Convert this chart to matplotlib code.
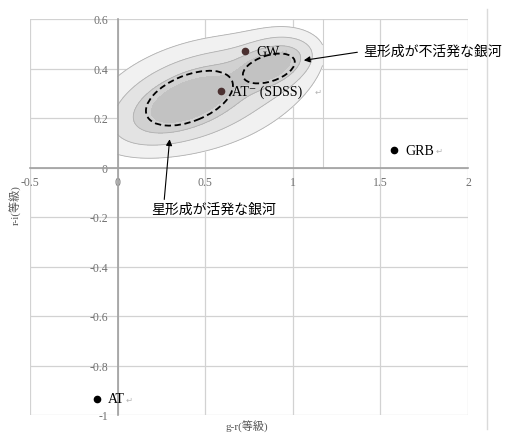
import numpy as np
import matplotlib
matplotlib.use('Agg')
import matplotlib.pyplot as plt
from matplotlib.patches import Ellipse
from matplotlib.transforms import ScaledTranslation
from matplotlib.lines import Line2D

# axis ticks
x_ticks = [-0.5, 0, 0.5, 1, 1.5, 2]
x_tick_labels = ['-0.5', '0', '0.5', '1', '1.5', '2']
y_ticks = [-1, -0.8, -0.6, -0.4, -0.2, 0, 0.2, 0.4, 0.6]
y_tick_labels = ['-1', '-0.8', '-0.6', '-0.4', '-0.2', '0', '0.2', '0.4', '0.6']

# marked objects (g-r, r-i)
obj_names = ['GW', 'AT\u207b (SDSS)', 'GRB', 'AT']
obj_gr = [0.73, 0.59, 1.58, -0.12]
obj_ri = [0.47, 0.31, 0.07, -0.935]
obj_colors = ['#4a3030', '#4a3030', 'black', 'black']
mark_gap = [1, 12, 1, 1]   # gap before the return mark, px

# galaxy density cloud (SDSS background), gaussian components
cloud_gr = [0.40, 0.86, 0.47, 0.88]
cloud_ri = [0.27, 0.41, 0.29, 0.42]
cloud_sgr = [0.19, 0.11, 0.35, 0.14]
cloud_sri = [0.08, 0.045, 0.14, 0.075]
cloud_rho = [0.55, 0.45, 0.35, 0.3]
cloud_w = [1.0, 0.9, 0.35, 0.3]
cloud_extent = [0.0, 1.17, 0.0, 0.6]

# dashed ellipses: centre (data), size in pixels, angle
ell_gr = [0.41, 0.863]
ell_ri = [0.28, 0.40]
ell_w = [92, 54]
ell_h = [46, 26]
ell_ang = [22, 18]

fig = plt.figure(figsize=(5.11, 4.35), dpi=100)
ax = fig.add_axes([30 / 511, 1 - 416 / 435, 438 / 511, 396 / 435])

jp = ['Liberation Serif', 'Noto Sans CJK JP', 'DejaVu Sans']

# density background
gx = np.linspace(cloud_extent[0], cloud_extent[1], 300)
gy = np.linspace(cloud_extent[2], cloud_extent[3], 200)
X, Y = np.meshgrid(gx, gy)
Z = np.zeros_like(X)
for cx, cy, sx, sy, r, w in zip(cloud_gr, cloud_ri, cloud_sgr, cloud_sri, cloud_rho, cloud_w):
    dx = (X - cx) / sx
    dy = (Y - cy) / sy
    q = (dx ** 2 - 2 * r * dx * dy + dy ** 2) / (1 - r ** 2)
    Z += w * np.exp(-q / 2)

levels = [0.08, 0.2, 0.45, 0.8, 5]
ax.contourf(X, Y, Z, levels=levels,
            colors=['#f1f1f1', '#e3e3e3', '#d1d1d1', '#c2c2c2'], zorder=1)
ax.contour(X, Y, Z, levels=levels[:3], colors='#b0b0b0', linewidths=0.6, zorder=1)
ax.plot([cloud_extent[1], cloud_extent[1]], [cloud_extent[2], cloud_extent[3]],
        color='#cfcfcf', lw=0.8, zorder=1)

# axes styling
ax.set_xlim(-0.5, 2)
ax.set_ylim(-1, 0.6)
ax.set_xticks(x_ticks)
ax.set_xticklabels(x_tick_labels)
ax.set_yticks(y_ticks)
ax.set_yticklabels(y_tick_labels)
ax.grid(True, color='#d2d2d2', lw=0.9, zorder=0)
ax.set_axisbelow(True)
for s in ['top', 'right']:
    ax.spines[s].set_visible(False)
ax.spines['left'].set_position(('data', 0))
ax.spines['bottom'].set_position(('data', 0))
for s in ['left', 'bottom']:
    ax.spines[s].set_color('#a0a0a0')
    ax.spines[s].set_linewidth(1.2)
    ax.spines[s].set_zorder(2)
ax.tick_params(axis='both', length=0, labelsize=8.5, labelcolor='#707070')
ax.tick_params(axis='y', pad=7)
ax.tick_params(axis='x', pad=6)
for lab in ax.get_xticklabels() + ax.get_yticklabels():
    lab.set_family('Liberation Serif')

# dashed ellipses
for cx, cy, w, h, a in zip(ell_gr, ell_ri, ell_w, ell_h, ell_ang):
    tr = fig.dpi_scale_trans + ScaledTranslation(cx, cy, ax.transData)
    ax.add_patch(Ellipse((0, 0), w / 100, h / 100, angle=a, transform=tr,
                         fill=False, ls=(0, (3.5, 2)), lw=1.3, color='black', zorder=4))

# marked objects
renderer = fig.canvas.get_renderer()
for name, x, y, c, gap in zip(obj_names, obj_gr, obj_ri, obj_colors, mark_gap):
    ax.plot(x, y, 'o', ms=4.5, color=c, zorder=5)
    t = ax.annotate(name, (x, y), xytext=(8, 0), textcoords='offset points',
                    va='center', ha='left', fontsize=10, family=jp, zorder=5)
    bb = t.get_window_extent(renderer)
    fig.text((bb.x1 + gap) / fig.bbox.width, (bb.y0 + bb.y1) / 2 / fig.bbox.height,
             '\u21b5', va='center', ha='left', fontsize=6, color='#b5b5b5',
             family='DejaVu Sans', zorder=6)

# annotations with arrows
ax.annotate('星形成が活発な銀河', xy=(0.297, 0.114), xytext=(0.55, -0.167),
            ha='center', va='center', fontsize=10, family=jp, zorder=6,
            arrowprops=dict(arrowstyle='-|>', color='black', lw=0.8,
                            mutation_scale=9, shrinkA=0, shrinkB=0,
                            relpos=(0.1, 1.0)))
ax.annotate('星形成が不活発な銀河', xy=(1.063, 0.433), xytext=(1.40, 0.469),
            ha='left', va='center', fontsize=10, family=jp, zorder=6,
            arrowprops=dict(arrowstyle='-|>', color='black', lw=0.8,
                            mutation_scale=9, shrinkA=2, shrinkB=0,
                            relpos=(0.0, 0.5)))

# axis titles
fig.text(16 / 511, 1 - 205 / 435, 'r-i(等級)', rotation=90, ha='center', va='center',
         fontsize=8, color='#555555', family=jp)
fig.text(247 / 511, 1 - 427 / 435, 'g-r(等級)', ha='center', va='center',
         fontsize=8, color='#555555', family=jp)

# page edge seen in the scan
fig.add_artist(Line2D([487 / 511, 487 / 511], [1 - 430 / 435, 1 - 10 / 435],
                      color='#dadada', lw=1.0))

fig.savefig('out.png', dpi=100)
